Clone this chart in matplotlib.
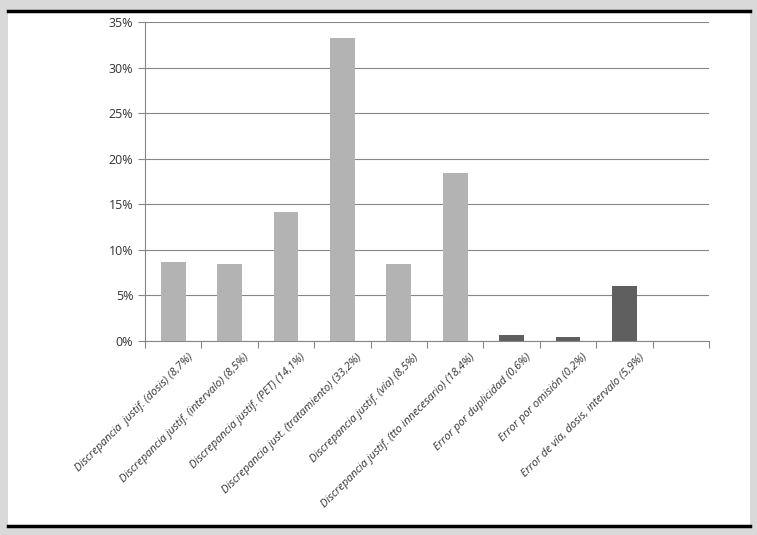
import matplotlib
matplotlib.use("Agg")
import matplotlib.pyplot as plt
from matplotlib.ticker import PercentFormatter

categories = ["Discrepancia  justif. (dosis) (8,7%)", "Discrepancia justif. (intervalo) (8,5%)",
              "Discrepancia justif. (PET) (14,1%)", "Discrepancia just. (tratamiento) (33,2%)",
              "Discrepancia justif. (vía) (8,5%)", "Discrepancia justif. (tto innecesario) (18,4%)",
              "Error por duplicidad (0,6%)", "Error por omisión (0,2%)", "Error de vía, dosis, intervalo (5,9%)"]
values = [8.7, 8.5, 14.1, 33.2, 8.5, 18.4, 0.7, 0.4, 6.0]
colors = ["#b3b3b3"] * 6 + ["#5f5f5f"] * 3

W, H = 757, 535
fig = plt.figure(figsize=(W / 100, H / 100), dpi=100, facecolor="#d9d9d9")
fig.add_artist(plt.Rectangle((8 / W, 1 - 527 / H), 742 / W, 515 / H, transform=fig.transFigure,
                             facecolor="white", edgecolor="none", zorder=-5))
fig.add_artist(plt.Line2D([8 / W, 750 / W], [1 - 11 / H] * 2, color="black", lw=2.5, zorder=-4))
fig.add_artist(plt.Line2D([8 / W, 750 / W], [1 - 526 / H] * 2, color="black", lw=2.5, zorder=-4))

ax = fig.add_axes([145 / W, 1 - 341 / H, 564 / W, 319 / H])
ax.set_zorder(2)
ax.set_facecolor("none")
x = list(range(len(values)))
ax.bar(x, values, width=0.44, color=colors, zorder=3)
ax.set_xlim(-0.5, 9.5)
ax.set_ylim(0, 35)
ax.set_yticks(range(0, 36, 5))
ax.yaxis.set_major_formatter(PercentFormatter(decimals=0))
ax.grid(axis="y", color="#868686", lw=0.8, zorder=0)
for s in ["top", "right"]:
    ax.spines[s].set_visible(False)
for s in ["left", "bottom"]:
    ax.spines[s].set_color("#868686")
ax.set_xticks([i - 0.5 for i in range(11)])
ax.set_xticklabels([])
ax.tick_params(axis="x", length=5, color="#868686")
ax.tick_params(axis="y", length=5, color="#868686", labelsize=9, labelcolor="#333333")
for lbl in ax.get_yticklabels():
    lbl.set_family("Open Sans")
for i, c in enumerate(categories):
    ax.text(i + 0.25, -1.2, c, rotation=45, ha="right", va="top", rotation_mode="anchor",
            fontsize=8, family="Open Sans", style="italic", color="#333333")
fig.savefig("out.png", dpi=100, facecolor=fig.get_facecolor())
